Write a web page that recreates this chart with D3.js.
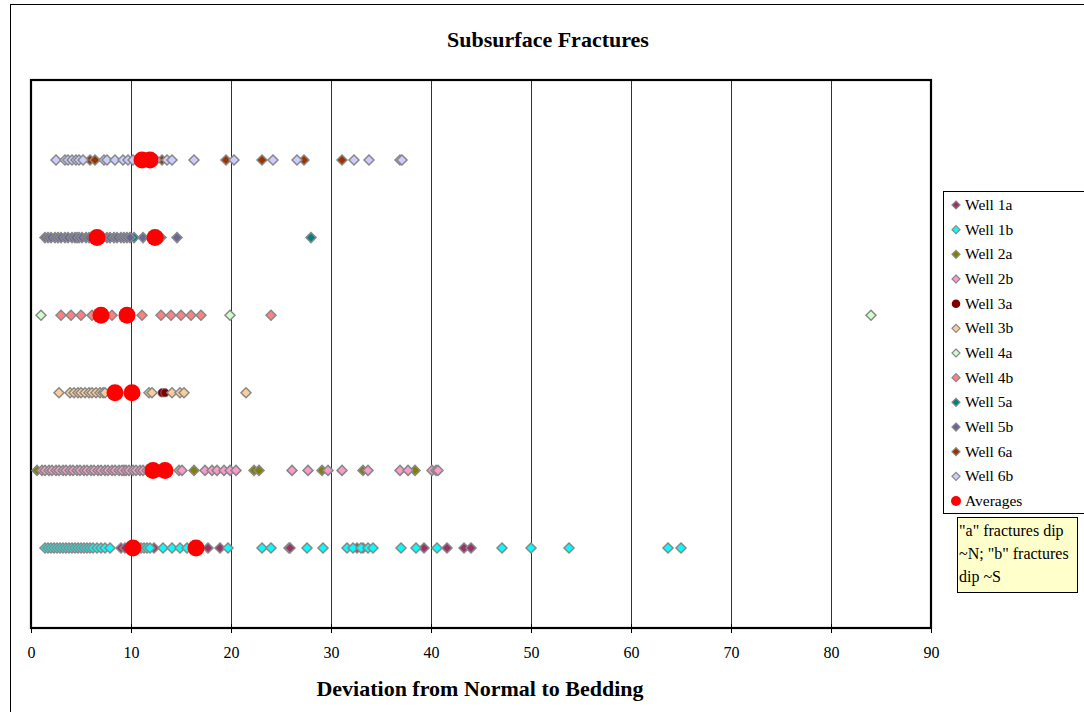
<!DOCTYPE html>
<html>
<head>
<meta charset="utf-8">
<script src="https://cdn.jsdelivr.net/npm/d3@7"></script>
<style>
  html, body { margin: 0; padding: 0; background: #fff; }
  svg { display: block; font-family: "Liberation Serif", "Times New Roman", serif; }
</style>
</head>
<body>
<svg id="chart" width="1084" height="712"></svg>
<script>
// ---------------- data ----------------
const xTicks = [0, 10, 20, 30, 40, 50, 60, 70, 80, 90];
const seriesNames = ["Well 1a","Well 1b","Well 2a","Well 2b","Well 3a","Well 3b","Well 4a","Well 4b","Well 5a","Well 5b","Well 6a","Well 6b"];
const seriesColors = ["#993366","#00FFFF","#808000","#FF99CC","#800000","#FFCC99","#CCFFCC","#FF8080","#008080","#666699","#993300","#CCCCFF"];
const seriesRow = [1,1,2,2,3,3,4,4,5,5,6,6];

const well1a = [9.0, 9.4, 12.3, 17.7, 18.9, 25.8, 25.9, 32.6, 33.2, 39.3, 41.6, 43.3, 44.0];
const well1b = [1.4,1.7,2.0,2.3,2.6,2.9,3.2,3.5,3.8,4.1,4.4,4.7,5.0,5.3,5.6,5.9,6.2,6.6,7.0,7.4,7.9,
                10.6,11.0,11.3,11.6,11.9,13.2,14.1,14.9,15.6,19.7,23.1,24.0,27.6,29.2,31.6,32.2,33.0,33.7,34.2,
                37.0,38.5,40.6,47.1,50.0,53.8,63.7,65.0];
const well2a = [0.6, 9.3, 13.0, 16.3, 22.3, 22.8, 29.1, 33.2, 38.4];
const well2b = [1.1,1.4,1.8,2.1,2.5,2.8,3.2,3.5,3.9,4.2,4.6,4.9,5.3,5.6,6.0,6.3,6.7,7.0,7.4,7.7,8.1,8.4,8.8,
                9.1,9.5,9.8,10.2,10.5,10.9,11.2,11.6,14.8,15.1,17.4,18.1,18.6,19.3,19.9,20.5,26.1,27.7,29.7,
                31.1,33.7,36.9,37.7,40.1,40.5,40.7];
const well3a = [13.1, 13.4];
const well3b = [2.8,3.9,4.3,4.7,5.0,5.4,5.8,6.1,6.5,6.9,7.2,7.4,11.8,12.1,14.1,14.9,15.3,21.5];
const well4a = [1.0, 19.9, 84.0];
const well4b = [3.0, 4.0, 5.0, 6.1, 8.1, 11.1, 13.0, 14.0, 15.0, 16.0, 17.0, 24.0];
const well5a = [4.6, 10.3, 28.0];
const well5b = [1.4,1.7,2.0,2.4,2.7,3.0,3.4,3.7,4.1,4.4,4.8,5.1,5.5,5.8,6.2,6.5,6.9,7.2,7.6,7.9,8.3,8.6,9.0,
                9.3,9.6,9.9,11.2,12.0,13.0,14.6];
const well6a = [5.9, 6.4, 13.1, 19.5, 23.1, 27.3, 31.1];
const well6b = [2.5,3.4,3.7,4.1,4.5,4.8,5.2,7.3,7.6,8.4,9.2,9.7,10.2,12.5,13.6,14.1,16.3,20.3,24.2,26.6,
                32.3,33.8,36.9,37.1];
const seriesValues = [well1a, well1b, well2a, well2b, well3a, well3b, well4a, well4b, well5a, well5b, well6a, well6b];

const averagesX = [10.2, 16.5, 12.2, 13.4, 8.4, 10.1, 7.0, 9.6, 6.6, 12.4, 11.1, 11.9];
const averagesRow = [1, 1, 2, 2, 3, 3, 4, 4, 5, 5, 6, 6];

const noteLines = ['"a" fractures dip', '~N; "b" fractures', 'dip ~S'];

// ---------------- layout ----------------
const svg = d3.select("#chart");
const plot = { left: 31, top: 80, right: 931, bottom: 628 };

const x = d3.scaleLinear().domain([0, 90]).range([plot.left, plot.right]);
const y = d3.scaleLinear().domain([0, 7]).range([625.6, 82.4]);

// outer chart border
svg.append("rect").attr("x", 10.5).attr("y", 4.5).attr("width", 1200).attr("height", 800)
  .attr("fill", "#fff").attr("stroke", "#000").attr("stroke-width", 1);

// title
svg.append("text").attr("x", 548).attr("y", 47).attr("text-anchor", "middle")
  .attr("font-size", 22).attr("font-weight", "bold").text("Subsurface Fractures");

// gridlines
svg.append("g").selectAll("line").data(xTicks.filter(d => d > 0 && d < 90)).join("line")
  .attr("x1", d => x(d) + 0.5).attr("x2", d => x(d) + 0.5)
  .attr("y1", plot.top).attr("y2", plot.bottom)
  .attr("stroke", "#333").attr("stroke-width", 1);

// x axis
const xAxis = d3.axisBottom(x).tickValues(xTicks).tickSize(9).tickPadding(8).tickFormat(d3.format("d"));
const gx = svg.append("g").attr("transform", `translate(0,${plot.bottom - 4})`).call(xAxis);
gx.select(".domain").remove();
gx.selectAll(".tick line").attr("stroke", "#000").attr("stroke-width", 1);
gx.selectAll(".tick text").attr("font-size", 16).attr("font-family", "Liberation Serif, serif").attr("fill", "#000")
  .attr("dy", "1.05em");

// plot border
svg.append("rect").attr("x", plot.left).attr("y", plot.top)
  .attr("width", plot.right - plot.left).attr("height", plot.bottom - plot.top)
  .attr("fill", "none").attr("stroke", "#000").attr("stroke-width", 2.2);

// axis title
svg.append("text").attr("x", 480).attr("y", 696).attr("text-anchor", "middle")
  .attr("font-size", 22).attr("font-weight", "bold").text("Deviation from Normal to Bedding");

// markers
const diamond = (s) => `M0,${-s}L${s},0L0,${s}L${-s},0Z`;
const gm = svg.append("g");
seriesValues.forEach((vals, i) => {
  const g = gm.append("g");
  if (seriesNames[i] === "Well 3a") {
    g.selectAll("circle").data(vals).join("circle")
      .attr("cx", d => x(d)).attr("cy", y(seriesRow[i])).attr("r", 4.2)
      .attr("fill", seriesColors[i]).attr("stroke", "#808080").attr("stroke-width", 0.8);
  } else {
    g.selectAll("path").data(vals).join("path")
      .attr("d", diamond(5))
      .attr("transform", d => `translate(${x(d)},${y(seriesRow[i])})`)
      .attr("fill", seriesColors[i]).attr("stroke", "#888").attr("stroke-width", 1.5);
  }
});
gm.append("g").selectAll("circle").data(averagesX).join("circle")
  .attr("cx", d => x(d)).attr("cy", (d, i) => y(averagesRow[i])).attr("r", 8.5)
  .attr("fill", "#FF0000");

// legend
const lg = svg.append("g");
lg.append("rect").attr("x", 943.5).attr("y", 191.5).attr("width", 200).attr("height", 322)
  .attr("fill", "#fff").attr("stroke", "#000").attr("stroke-width", 1);
const legendItems = seriesNames.map((n, i) => ({ name: n, color: seriesColors[i], type: n === "Well 3a" ? "circle" : "diamond" }))
  .concat([{ name: "Averages", color: "#FF0000", type: "avg" }]);
const li = lg.selectAll("g.item").data(legendItems).join("g").attr("class", "item")
  .attr("transform", (d, i) => `translate(956,${205 + i * 24.67})`);
li.each(function (d) {
  const g = d3.select(this);
  if (d.type === "diamond") {
    g.append("path").attr("d", diamond(4)).attr("fill", d.color).attr("stroke", "#888").attr("stroke-width", 1.2);
  } else if (d.type === "circle") {
    g.append("circle").attr("r", 4.3).attr("fill", d.color);
  } else {
    g.append("circle").attr("r", 5).attr("fill", d.color);
  }
});
li.append("text").attr("x", 9).attr("y", 5).attr("font-size", 15.5).text(d => d.name);

// note box
const ng = svg.append("g");
ng.append("rect").attr("x", 957.5).attr("y", 517.5).attr("width", 120).attr("height", 75)
  .attr("fill", "#FFFFCC").attr("stroke", "#000").attr("stroke-width", 1);
ng.selectAll("text").data(noteLines).join("text")
  .attr("x", 959).attr("y", (d, i) => 536 + i * 23)
  .attr("font-size", 16).text(d => d);
</script>
</body>
</html>
